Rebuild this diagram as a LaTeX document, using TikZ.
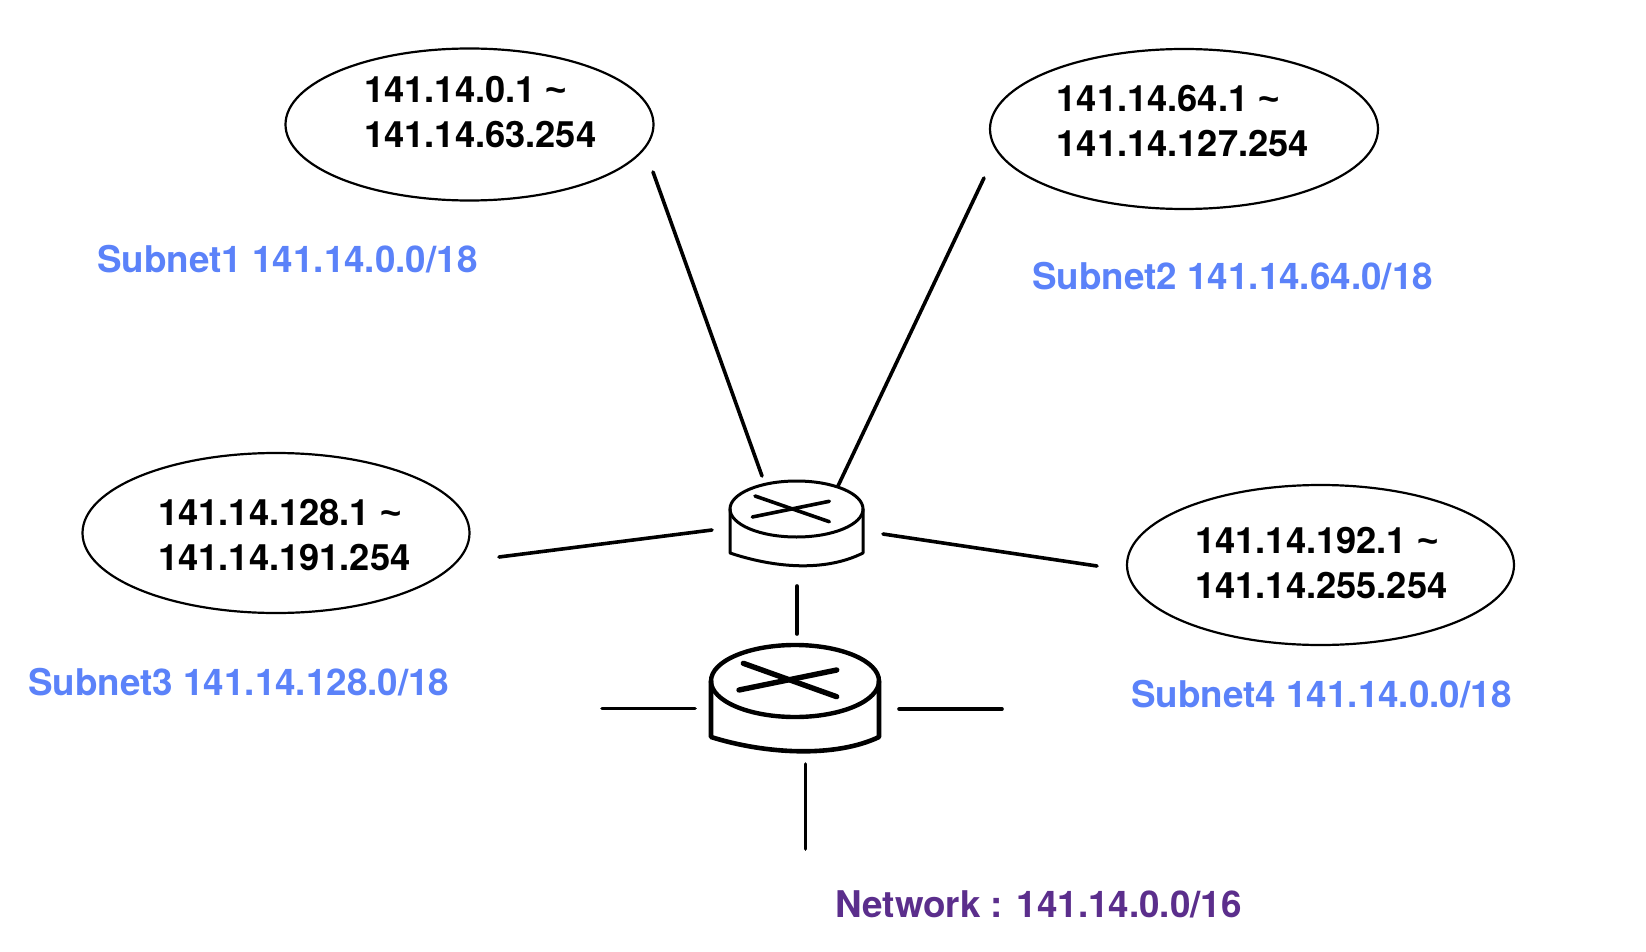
\documentclass[tikz,border=0pt]{standalone}
\usepackage{fontspec}
\setmainfont{TeX Gyre Heros}
\newfontfamily\tildefont{Liberation Sans}
\newcommand{\tld}{{\tildefont\bfseries\char`\~}}
\usetikzlibrary{shapes.geometric}
\definecolor{subnetblue}{HTML}{5B82F9}
\definecolor{netpurple}{HTML}{5B2E8C}
\tikzset{
  x=1pt,y=-1pt,
  cloud/.style={ellipse,draw=black,line width=2.2pt,inner sep=0pt,outer sep=0pt,minimum width=#1*2pt},
  addr/.style={anchor=base west,inner sep=0pt,font=\fontsize{36.3}{36.3}\selectfont\bfseries,text=black},
  subnetlbl/.style={addr,font=\fontsize{36.8}{36.8}\selectfont\bfseries,text=subnetblue},
  netlbl/.style={addr,font=\fontsize{36.8}{36.8}\selectfont\bfseries,text=netpurple},
  link/.style={line width=3.6pt,line cap=round},
  smallr/.style={line width=3pt,line cap=round,line join=round},
  bigr/.style={line width=4.6pt,line cap=round,line join=round},
}
\begin{document}
\begin{tikzpicture}
\useasboundingbox (0,0) rectangle (1646,952);
% subnet ellipses
\node[cloud=184,minimum height=152pt] (e1) at (469.5,124.5) {};
\node[cloud=194,minimum height=160pt] (e2) at (1184,129) {};
\node[cloud=193.5,minimum height=160pt] (e3) at (276,533) {};
\node[cloud=193.5,minimum height=160pt] (e4) at (1320.5,565) {};
% address texts
\node[addr] (a1a) at (364,103) {141.14.0.1 \tld};
\node[addr] (a1b) at (364,148) {141.14.63.254};
\node[addr] (a2a) at (1056.5,112) {141.14.64.1 \tld};
\node[addr] (a2b) at (1056.5,157) {141.14.127.254};
\node[addr] (a3a) at (158,525) {141.14.128.1 \tld};
\node[addr] (a3b) at (158,570) {141.14.191.254};
\node[addr] (a4a) at (1195,553) {141.14.192.1 \tld};
\node[addr] (a4b) at (1195,598) {141.14.255.254};
% labels
\node[subnetlbl] (s1) at (97,272) {Subnet1 141.14.0.0/18};
\node[subnetlbl] (s2) at (1032,289) {Subnet2 141.14.64.0/18};
\node[subnetlbl] (s3) at (28,695) {Subnet3 141.14.128.0/18};
\node[subnetlbl] (s4) at (1131,707) {Subnet4 141.14.0.0/18};
\node[netlbl] (net) at (835,917) {Network : 141.14.0.0/16};
% small router
\node[ellipse,draw=black,line width=3pt,inner sep=0pt,outer sep=0pt,minimum width=133pt,minimum height=56pt] (r1) at (796.5,509) {};
\draw[smallr] (r1.west) -- (730,553) .. controls (775,568) and (825,572) .. (863,553) -- (r1.east);
\draw[smallr,line width=3.6pt] (755,496) -- (829.3,521.7);
\draw[smallr,line width=3.6pt] (752.3,517) -- (829.3,501.3);
% large router
\node[ellipse,draw=black,line width=4.4pt,inner sep=0pt,outer sep=0pt,minimum width=168pt,minimum height=72pt] (r2) at (795,681) {};
\draw[bigr] (r2.west) -- (711,737) .. controls (765,754) and (835,758) .. (879,737) -- (r2.east);
\draw[bigr,line width=5.4pt] (743.3,663.3) -- (836.7,696.7);
\draw[bigr,line width=5.4pt] (739,690) -- (836.7,670);
% connector ends
\coordinate (c1a) at (653,172); \coordinate (c1b) at (762,476);
\coordinate (c2a) at (984,178); \coordinate (c2b) at (838,486);
\coordinate (c3a) at (499,557); \coordinate (c3b) at (712,530);
\coordinate (c4a) at (883,534); \coordinate (c4b) at (1097,566);
\coordinate (c5a) at (797,586); \coordinate (c5b) at (797,634);
\coordinate (c6a) at (602,708.5); \coordinate (c6b) at (695,708.5);
\coordinate (c7a) at (899,709); \coordinate (c7b) at (1002,709);
\coordinate (c8a) at (805.5,764); \coordinate (c8b) at (805.5,849);
\draw[link] (c1a) -- (c1b);
\draw[link] (c2a) -- (c2b);
\draw[link] (c3a) -- (c3b);
\draw[link] (c4a) -- (c4b);
\draw[link] (c5a) -- (c5b);
\draw[link] (c6a) -- (c6b);
\draw[link] (c7a) -- (c7b);
\draw[link] (c8a) -- (c8b);
\end{tikzpicture}
\end{document}
